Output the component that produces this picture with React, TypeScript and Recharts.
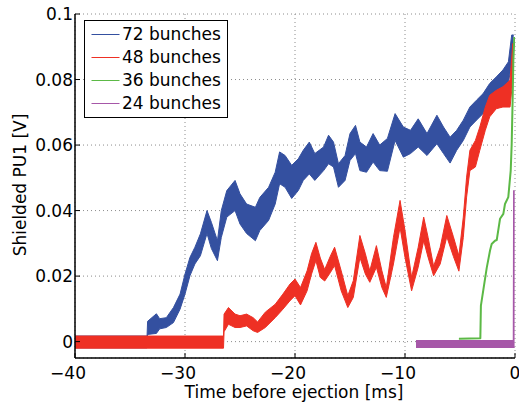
import { Area, CartesianGrid, ComposedChart, Legend, Line, XAxis, YAxis } from 'recharts'

const FONT = '"DejaVu Sans", sans-serif'

// [time ms, lower edge V, upper edge V] of each noisy trace
const bunches72: [number, number, number][] = [
  [-40, -0.0019, 0.0017], [-33.45, -0.0019, 0.0017],
  [-33.4, 0.0022, 0.0062], [-32.6, 0.0025, 0.0085], [-32.3, 0.0039, 0.007],
  [-31.7, 0.0043, 0.0073], [-31.05, 0.0058, 0.0104], [-30.45, 0.0099, 0.0145],
  [-30.0, 0.0145, 0.0206], [-29.55, 0.0201, 0.0257], [-29.1, 0.0237, 0.0288],
  [-28.6, 0.0262, 0.0329], [-28.0, 0.033, 0.04], [-27.6, 0.0284, 0.0364],
  [-27.05, 0.0247, 0.0308], [-26.7, 0.0318, 0.04], [-26.2, 0.038, 0.0461],
  [-25.45, 0.04, 0.0492], [-25.0, 0.0359, 0.0451], [-24.4, 0.033, 0.042],
  [-23.6, 0.0308, 0.041], [-23.2, 0.0339, 0.044], [-22.4, 0.037, 0.0471],
  [-21.8, 0.042, 0.0517], [-21.4, 0.0482, 0.0579], [-20.9, 0.0471, 0.0568],
  [-20.3, 0.0437, 0.0538], [-19.7, 0.0461, 0.0558], [-19.25, 0.0492, 0.0584],
  [-18.7, 0.0512, 0.0609], [-18.2, 0.0492, 0.0574], [-17.4, 0.0522, 0.0594],
  [-16.95, 0.0543, 0.063], [-16.5, 0.0533, 0.0609], [-16.05, 0.0471, 0.0543],
  [-15.45, 0.0492, 0.0568], [-15.0, 0.0553, 0.0635], [-14.5, 0.0574, 0.066],
  [-14.1, 0.0522, 0.0609], [-13.5, 0.0517, 0.0594], [-12.9, 0.0548, 0.0635],
  [-12.3, 0.0522, 0.06], [-11.6, 0.052, 0.062], [-10.9, 0.0614, 0.0696],
  [-10.15, 0.0563, 0.0655], [-9.5, 0.0574, 0.0645], [-8.8, 0.0594, 0.068],
  [-8.0, 0.0568, 0.0635], [-7.1, 0.0604, 0.0691], [-6.5, 0.0574, 0.0655],
  [-5.9, 0.0545, 0.0624], [-5.3, 0.0584, 0.0645], [-4.7, 0.0614, 0.0676],
  [-4.1, 0.0655, 0.0716], [-3.5, 0.0676, 0.0737], [-2.9, 0.0696, 0.0757],
  [-2.3, 0.0727, 0.0788], [-1.7, 0.0747, 0.0808], [-1.1, 0.0778, 0.0829],
  [-0.6, 0.079, 0.0854], [-0.3, 0.085, 0.0936], [-0.12, 0.085, 0.0936],
]

const bunches48: [number, number, number][] = [
  [-40, -0.002, 0.0017], [-26.5, -0.002, 0.0017],
  [-26.45, 0.003, 0.0084], [-26.05, 0.0053, 0.0104], [-25.45, 0.0043, 0.0084],
  [-25.0, 0.0043, 0.0079], [-24.4, 0.0048, 0.0084], [-23.8, 0.0033, 0.0073],
  [-23.4, 0.0028, 0.006], [-22.7, 0.0043, 0.009], [-21.8, 0.0073, 0.0114],
  [-21.1, 0.0099, 0.0145], [-20.45, 0.0125, 0.0176], [-20.0, 0.014, 0.0191],
  [-19.5, 0.0112, 0.0165], [-18.9, 0.0155, 0.0216], [-18.5, 0.0206, 0.0268],
  [-18.1, 0.0247, 0.0303], [-17.7, 0.0196, 0.0255], [-17.3, 0.0185, 0.022],
  [-16.8, 0.021, 0.026], [-16.4, 0.0232, 0.0288], [-15.8, 0.0155, 0.0216],
  [-15.2, 0.0104, 0.014], [-14.7, 0.0135, 0.0186], [-14.1, 0.0257, 0.0324],
  [-13.6, 0.0206, 0.0268], [-13.2, 0.0181, 0.0216], [-12.6, 0.0227, 0.0293],
  [-12.1, 0.0165, 0.0216], [-11.7, 0.0135, 0.0165], [-11.05, 0.0237, 0.0318],
  [-10.45, 0.0349, 0.0431], [-10.0, 0.0257, 0.0339], [-9.4, 0.0155, 0.0196],
  [-8.8, 0.0227, 0.0288], [-8.3, 0.0308, 0.038], [-7.9, 0.0257, 0.0318],
  [-7.4, 0.0201, 0.023], [-6.8, 0.0237, 0.0288], [-6.2, 0.032, 0.0385],
  [-5.6, 0.026, 0.032], [-5.1, 0.0215, 0.0262], [-4.7, 0.0318, 0.038],
  [-4.4, 0.0441, 0.0502], [-4.1, 0.0522, 0.0584], [-3.6, 0.0533, 0.0614],
  [-3.2, 0.0584, 0.0655], [-2.7, 0.0645, 0.0716], [-2.3, 0.0686, 0.0752],
  [-1.7, 0.0711, 0.0767], [-1.1, 0.0716, 0.0778], [-0.45, 0.0716, 0.0798],
  [-0.2, 0.08, 0.091], [-0.1, 0.08, 0.091],
]

// [time ms, V] — the 36 bunch trace is thin
const bunches36: [number, number][] = [
  [-5.1, 0.0009], [-3.15, 0.001], [-3.1, 0.011], [-2.57, 0.0225],
  [-2.27, 0.0278], [-2.12, 0.0298], [-1.82, 0.0308], [-1.66, 0.031],
  [-1.36, 0.0375], [-1.06, 0.039], [-0.91, 0.042], [-0.61, 0.0441],
  [-0.39, 0.0522], [-0.3, 0.0604], [-0.21, 0.0747], [-0.15, 0.0859],
  [-0.06, 0.093],
]

const bunches24: [number, number, number][] = [
  [-9.0, -0.0018, 0.0003], [-0.15, -0.0018, 0.0003],
  [-0.12, -0.0018, 0.046], [-0.04, -0.0018, 0.046],
]

const timeTicks = [-40, -30, -20, -10, 0]
const voltTicks = [0, 0.02, 0.04, 0.06, 0.08, 0.1]

const SERIES = [
  { name: '72 bunches', color: '#3450a0' },
  { name: '48 bunches', color: '#ee3024' },
  { name: '36 bunches', color: '#5cb946' },
  { name: '24 bunches', color: '#a657a8' },
]

const band = (rows: [number, number, number][]) => rows.map(([t, lo, hi]) => ({ t, v: [lo, hi] }))
const trace = (rows: [number, number][]) => rows.map(([t, v]) => ({ t, v }))

function TimeTick({ x, y, payload }: any) {
  const v = payload.value
  const neg = v < 0
  return (
    <text x={neg ? x + 11 : x} y={y + 17} textAnchor={neg ? 'end' : 'middle'}
      fontSize={17} fontFamily={FONT} fill="#000">
      {neg ? `\u2212${-v}` : String(v)}
    </text>
  )
}

function VoltTick({ x, y, payload }: any) {
  return (
    <text x={x} y={y + 6} textAnchor="end" fontSize={17} fontFamily={FONT} fill="#000">
      {String(payload.value)}
    </text>
  )
}

function BunchLegend() {
  return (
    <div style={{
      boxSizing: 'border-box', width: 144, height: 98, border: '1px solid #000',
      background: '#fff', paddingTop: 1.7,
    }}>
      {SERIES.map(s => (
        <div key={s.name} style={{ display: 'flex', alignItems: 'center', height: 23.2 }}>
          <svg width={37} height={3} style={{ display: 'block' }}>
            <line x1={6.5} x2={34.5} y1={1.5} y2={1.5} stroke={s.color} strokeWidth={1} />
          </svg>
          <span style={{ fontFamily: FONT, fontSize: 17, lineHeight: 1, color: '#000' }}>{s.name}</span>
        </div>
      ))}
    </div>
  )
}

export default function App() {
  const axisLine = { stroke: '#000', strokeWidth: 1.5 }
  const tickLine = { stroke: '#000', strokeWidth: 1 }
  return (
    <div style={{ position: 'absolute', left: 0, top: 0, width: 519, height: 404, background: '#fff' }}>
      <ComposedChart width={519} height={404} margin={{ top: 14, right: 4, bottom: 0, left: 0 }}>
        <CartesianGrid stroke="#8c8c8c" strokeDasharray="1 3" />
        <XAxis dataKey="t" type="number" domain={[-40, 0]} ticks={timeTicks} allowDataOverflow
          height={46} tickSize={-5} tickMargin={9} axisLine={axisLine} tickLine={tickLine}
          tick={<TimeTick />}
          label={(p: any) => (
            <text x={p.viewBox.x + p.viewBox.width / 2 - 1} y={p.viewBox.y + 40} textAnchor="middle"
              fontSize={17} fontFamily={FONT} fill="#000">Time before ejection [ms]</text>
          )} />
        <XAxis xAxisId="top" orientation="top" type="number" domain={[-40, 0]} ticks={timeTicks}
          allowDataOverflow height={0} tickSize={-5} tick={false} axisLine={axisLine} tickLine={tickLine} />
        <YAxis type="number" domain={[-0.005, 0.1]} ticks={voltTicks} allowDataOverflow
          width={75} tickSize={-5} tickMargin={7} axisLine={axisLine} tickLine={tickLine}
          tick={<VoltTick />}
          label={(p: any) => (
            <text transform={`translate(${p.viewBox.x + 26},${p.viewBox.y + p.viewBox.height / 2 - 1}) rotate(-90)`}
              textAnchor="middle" fontSize={17} fontFamily={FONT} fill="#000">Shielded PU1 [V]</text>
          )} />
        <YAxis yAxisId="right" orientation="right" type="number" domain={[-0.005, 0.1]} ticks={voltTicks}
          allowDataOverflow width={0} tickSize={-5} tick={false} axisLine={axisLine} tickLine={tickLine} />
        <Legend layout="vertical" align="center" verticalAlign="middle" content={<BunchLegend />}
          wrapperStyle={{ top: 20, left: 84, width: 144, height: 98 }} />
        <Area data={band(bunches72)} dataKey="v" name={SERIES[0].name} type="linear"
          stroke={SERIES[0].color} strokeWidth={1} strokeLinejoin="round" fill={SERIES[0].color} fillOpacity={1}
          isAnimationActive={false} legendType="line" />
        <Area data={band(bunches48)} dataKey="v" name={SERIES[1].name} type="linear"
          stroke={SERIES[1].color} strokeWidth={1} strokeLinejoin="round" fill={SERIES[1].color} fillOpacity={1}
          isAnimationActive={false} legendType="line" />
        <Line data={trace(bunches36)} dataKey="v" name={SERIES[2].name} type="linear"
          stroke={SERIES[2].color} strokeWidth={2} strokeLinejoin="round" dot={false}
          isAnimationActive={false} legendType="line" />
        <Area data={band(bunches24)} dataKey="v" name={SERIES[3].name} type="linear"
          stroke={SERIES[3].color} strokeWidth={1.2} fill={SERIES[3].color} fillOpacity={1}
          isAnimationActive={false} legendType="line" />
      </ComposedChart>
    </div>
  )
}
